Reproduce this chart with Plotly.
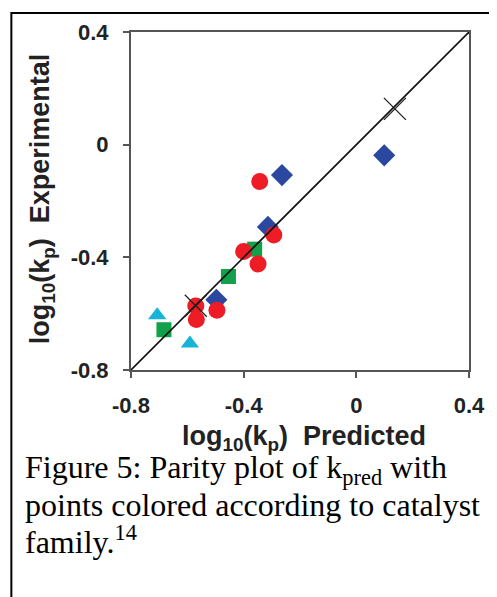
import plotly.graph_objects as go

# ---- data ----
red_x = [-0.343, -0.293, -0.400, -0.349, -0.495, -0.570, -0.568]
red_y = [-0.131, -0.321, -0.379, -0.424, -0.588, -0.573, -0.621]
blue_x = [0.099, -0.264, -0.314, -0.497]
blue_y = [-0.038, -0.108, -0.292, -0.551]
green_x = [-0.361, -0.454, -0.683]
green_y = [-0.371, -0.468, -0.657]
cyan_x = [-0.707, -0.591]
cyan_y = [-0.606, -0.706]
cross_x = [0.137, -0.570]
cross_y = [0.127, -0.572]
parity_x = [-0.8, 0.4]
parity_y = [-0.8, 0.4]
tick_vals = [-0.8, -0.4, 0, 0.4]
tick_text = ["-0.8", "-0.4", "0", "0.4"]

OFF = 8  # page body margin in the browser
W, H = 497 - OFF, 597 - OFF
L, R, T, B = 131 - OFF, 470 - OFF, 30 - OFF, 370 - OFF  # plot box in figure pixels


def px(xs):
    return (xs - OFF - L) / (R - L)


def py(ys):
    return (B - (ys - OFF)) / (B - T)


fig = go.Figure()
fig.add_trace(go.Scatter(x=green_x, y=green_y, mode="markers",
                         marker=dict(symbol="square", size=15, color="#12A04A")))
fig.add_trace(go.Scatter(x=blue_x, y=blue_y, mode="markers",
                         marker=dict(symbol="diamond", size=17, color="#2A48A0")))
fig.add_trace(go.Scatter(x=cyan_x, y=cyan_y, mode="markers",
                         marker=dict(symbol="triangle-up", size=16, color="#18B4D8")))
fig.add_trace(go.Scatter(x=red_x, y=red_y, mode="markers",
                         marker=dict(symbol="circle", size=17, color="#EE1C25")))
fig.add_trace(go.Scatter(x=parity_x, y=parity_y, mode="lines",
                         line=dict(color="#111111", width=1.6)))
fig.add_trace(go.Scatter(x=cross_x, y=cross_y, mode="markers",
                         marker=dict(symbol="x-thin", size=22,
                                     line=dict(color="#222222", width=1.3))))

tickfont = dict(family="Liberation Sans, Arial", size=22, color="#222222", weight="bold")
axis_common = dict(
    tickvals=tick_vals, ticktext=tick_text, range=[-0.8, 0.4],
    showgrid=False, zeroline=False, showline=True, linecolor="#555555",
    linewidth=2, mirror=True, ticks="outside", ticklen=6, tickwidth=2,
    tickcolor="#555555", tickfont=tickfont,
)
fig.update_xaxes(**axis_common, ticklabelstandoff=9)
fig.update_yaxes(**axis_common, ticklabelstandoff=10)

titlefont = dict(family="Liberation Sans, Arial", size=27, color="#222222", weight="bold")
capfont = dict(family="Liberation Serif, Times New Roman", size=32, color="#000000")

annotations = [
    dict(text="log<sub>10</sub>(k<sub>p</sub>)\u00a0\u00a0Predicted", x=px(305), y=py(438),
         xref="paper", yref="paper", showarrow=False, font=titlefont,
         xanchor="center", yanchor="middle"),
    dict(text="log<sub>10</sub>(k<sub>p</sub>)\u00a0\u00a0Experimental", x=px(42), y=py(198),
         xref="paper", yref="paper", showarrow=False, font=titlefont, textangle=-90,
         xanchor="center", yanchor="middle"),
    dict(text="Figure 5: Parity plot of k<sub>pred</sub> with", x=px(23), y=py(470),
         xref="paper", yref="paper", showarrow=False, font=capfont,
         xanchor="left", yanchor="middle"),
    dict(text="points colored according to catalyst", x=px(23), y=py(506),
         xref="paper", yref="paper", showarrow=False, font=capfont,
         xanchor="left", yanchor="middle"),
    dict(text="family.<sup>14</sup>", x=px(23), y=py(541),
         xref="paper", yref="paper", showarrow=False, font=capfont,
         xanchor="left", yanchor="middle"),
]

shapes = [
    dict(type="rect", xref="paper", yref="paper", x0=px(11), y0=py(640),
         x1=px(540), y1=py(11), line=dict(color="#000000", width=2)),
]

fig.update_layout(
    width=W, height=H,
    margin=dict(l=L, r=W - R, t=T, b=H - B),
    paper_bgcolor="white", plot_bgcolor="white",
    showlegend=False,
    annotations=annotations, shapes=shapes,
)

fig.write_html("out.html")
